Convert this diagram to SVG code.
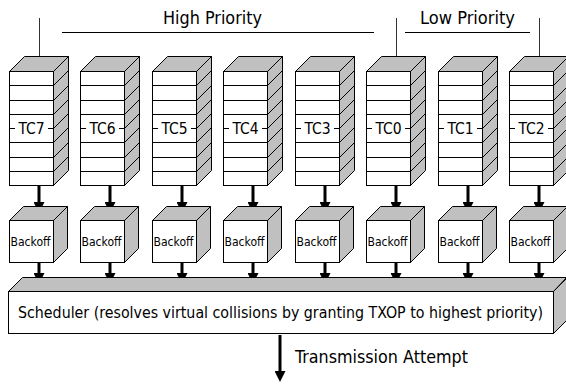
<svg xmlns="http://www.w3.org/2000/svg" xmlns:xlink="http://www.w3.org/1999/xlink" width="566" height="385" viewBox="0 0 566 385">
<style>
.face{fill:#c0c0c0;stroke:#000;stroke-width:1;stroke-linejoin:miter}
.front{fill:#fff;stroke:#000;stroke-width:1}
.row{fill:none;stroke:#000;stroke-width:1}
.t{font-family:"DejaVu Sans Condensed","DejaVu Sans",sans-serif;font-stretch:condensed;fill:#000}
.big{font-size:18px}
.tc{font-size:15.5px;text-anchor:middle}
.bk{font-size:12.5px;text-anchor:middle}
.arr{fill:none;stroke:#000;stroke-width:3}
.thin{fill:none;stroke:#333;stroke-width:1}
</style>
<defs>
<marker id="ah" viewBox="0 0 11 11" refX="0" refY="5.5" markerWidth="11" markerHeight="11" markerUnits="userSpaceOnUse" orient="auto">
<path d="M0,0 L11,5.5 L0,11 z" fill="#000"/>
</marker>
<g id="stack">
<polygon class="face" points="44,71.5 59,56.5 59,170.5 44,185.5"/>
<polygon class="face" points="0,71.5 15,56.5 59,56.5 44,71.5"/>
<rect class="front" x="0" y="71.5" width="44" height="114"/>
<path class="row" d="M0,85.5H44L59,70.5M0,100.5H44L59,85.5M0,114.5H44L59,99.5M0,128.5H44L59,113.5M0,142.5H44L59,127.5M0,157.5H44L59,142.5M0,171.5H44L59,156.5"/>
<rect x="5.5" y="121" width="33" height="16" fill="#fff"/>
</g>
<g id="cube">
<polygon class="face" points="44,220.5 58,206.5 58,248.5 44,262.5"/>
<polygon class="face" points="0,220.5 14,206.5 58,206.5 44,220.5"/>
<rect class="front" x="0" y="220.5" width="44" height="42"/>
</g>
</defs>

<g id="priority-labels">
<text class="t big" x="163" y="24" textLength="99" lengthAdjust="spacingAndGlyphs">High Priority</text>
<text class="t big" x="420" y="24" textLength="95" lengthAdjust="spacingAndGlyphs">Low Priority</text>
</g>

<g id="connectors">
<path class="row" d="M62,32.5H374M405,32.5H530"/>
<path class="thin" d="M39.5,18V68M396.5,18V68M539.5,18V68"/>
<path class="arr" marker-end="url(#ah)" d="M39,186V202"/>
<path class="arr" marker-end="url(#ah)" d="M110,186V202"/>
<path class="arr" marker-end="url(#ah)" d="M182,186V202"/>
<path class="arr" marker-end="url(#ah)" d="M253,186V202"/>
<path class="arr" marker-end="url(#ah)" d="M325,186V202"/>
<path class="arr" marker-end="url(#ah)" d="M396,186V202"/>
<path class="arr" marker-end="url(#ah)" d="M468,186V202"/>
<path class="arr" marker-end="url(#ah)" d="M539,186V202"/>
<path class="arr" marker-end="url(#ah)" d="M39,263V273"/>
<path class="arr" marker-end="url(#ah)" d="M110,263V273"/>
<path class="arr" marker-end="url(#ah)" d="M182,263V273"/>
<path class="arr" marker-end="url(#ah)" d="M253,263V273"/>
<path class="arr" marker-end="url(#ah)" d="M325,263V273"/>
<path class="arr" marker-end="url(#ah)" d="M396,263V273"/>
<path class="arr" marker-end="url(#ah)" d="M468,263V273"/>
<path class="arr" marker-end="url(#ah)" d="M539,263V273"/>
<path class="arr" marker-end="url(#ah)" d="M280,335V371"/>
</g>

<g id="tc7" transform="translate(9.5,0)"><use xlink:href="#stack"/><text class="t tc" x="22" y="134">TC7</text></g>
<g id="tc6" transform="translate(80.5,0)"><use xlink:href="#stack"/><text class="t tc" x="22" y="134">TC6</text></g>
<g id="tc5" transform="translate(152.5,0)"><use xlink:href="#stack"/><text class="t tc" x="22" y="134">TC5</text></g>
<g id="tc4" transform="translate(223.5,0)"><use xlink:href="#stack"/><text class="t tc" x="22" y="134">TC4</text></g>
<g id="tc3" transform="translate(295.5,0)"><use xlink:href="#stack"/><text class="t tc" x="22" y="134">TC3</text></g>
<g id="tc0" transform="translate(366.5,0)"><use xlink:href="#stack"/><text class="t tc" x="22" y="134">TC0</text></g>
<g id="tc1" transform="translate(438.5,0)"><use xlink:href="#stack"/><text class="t tc" x="22" y="134">TC1</text></g>
<g id="tc2" transform="translate(509.5,0)"><use xlink:href="#stack"/><text class="t tc" x="22" y="134">TC2</text></g>

<g id="backoff7" transform="translate(9.5,0)"><use xlink:href="#cube"/><text class="t bk" x="21" y="246" textLength="40" lengthAdjust="spacingAndGlyphs">Backoff</text></g>
<g id="backoff6" transform="translate(80.5,0)"><use xlink:href="#cube"/><text class="t bk" x="21" y="246" textLength="40" lengthAdjust="spacingAndGlyphs">Backoff</text></g>
<g id="backoff5" transform="translate(152.5,0)"><use xlink:href="#cube"/><text class="t bk" x="21" y="246" textLength="40" lengthAdjust="spacingAndGlyphs">Backoff</text></g>
<g id="backoff4" transform="translate(223.5,0)"><use xlink:href="#cube"/><text class="t bk" x="21" y="246" textLength="40" lengthAdjust="spacingAndGlyphs">Backoff</text></g>
<g id="backoff3" transform="translate(295.5,0)"><use xlink:href="#cube"/><text class="t bk" x="21" y="246" textLength="40" lengthAdjust="spacingAndGlyphs">Backoff</text></g>
<g id="backoff0" transform="translate(366.5,0)"><use xlink:href="#cube"/><text class="t bk" x="21" y="246" textLength="40" lengthAdjust="spacingAndGlyphs">Backoff</text></g>
<g id="backoff1" transform="translate(438.5,0)"><use xlink:href="#cube"/><text class="t bk" x="21" y="246" textLength="40" lengthAdjust="spacingAndGlyphs">Backoff</text></g>
<g id="backoff2" transform="translate(509.5,0)"><use xlink:href="#cube"/><text class="t bk" x="21" y="246" textLength="40" lengthAdjust="spacingAndGlyphs">Backoff</text></g>

<g id="scheduler">
<polygon class="face" points="553.5,291.5 566.5,278.5 566.5,320.5 553.5,333.5"/>
<polygon class="face" points="8.5,291.5 22.5,277.5 566.5,277.5 553.5,291.5"/>
<rect class="front" x="8.5" y="291.5" width="545" height="42"/>
<text class="t" font-size="16" x="18" y="318" textLength="525" lengthAdjust="spacingAndGlyphs">Scheduler (resolves virtual collisions by granting TXOP to highest priority)</text>
</g>

<g id="transmission-label">
<text class="t big" x="295" y="363" textLength="173" lengthAdjust="spacingAndGlyphs">Transmission Attempt</text>
</g>
</svg>
